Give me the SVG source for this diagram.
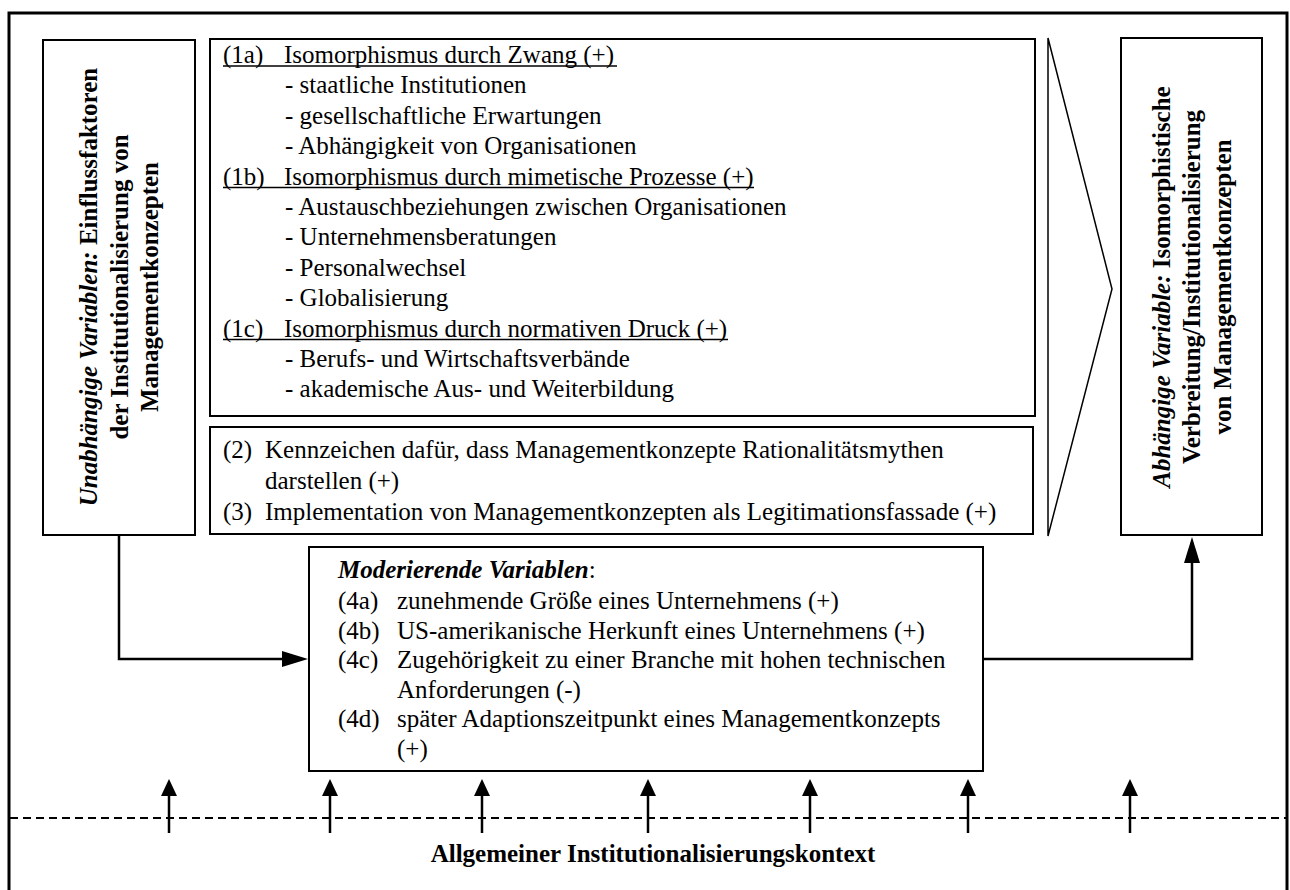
<svg xmlns="http://www.w3.org/2000/svg" width="1290" height="890" viewBox="0 0 1290 890">
<style>
.box{fill:#fff;stroke:#000;stroke-width:2}
.t{font-family:"Liberation Serif","Times New Roman",serif;font-size:25px;fill:#000}
.b{font-weight:bold}
.i{font-style:italic}
.conn{fill:none;stroke:#000;stroke-width:2.5}
.ul{stroke:#000;stroke-width:1.5}
</style>
<defs>
<marker id="ahBig" markerUnits="userSpaceOnUse" viewBox="0 0 26 16" markerWidth="26" markerHeight="16" refX="0" refY="8" orient="auto"><path d="M0,0 L26,8 L0,16 z" fill="#000"/></marker>
<marker id="ahSmall" markerUnits="userSpaceOnUse" viewBox="0 0 17 16" markerWidth="17" markerHeight="16" refX="0" refY="8" orient="auto"><path d="M0,0 L17,8 L0,16 z" fill="#000"/></marker>
</defs>
<rect x="0" y="0" width="1290" height="890" fill="#fff"/>
<g id="frame">
<rect x="9" y="13" width="1278" height="885" fill="none" stroke="#000" stroke-width="3"/>
</g>
<g id="context">
<line x1="10" y1="818" x2="1286" y2="818" stroke="#000" stroke-width="2" stroke-dasharray="8 5"/>
<text class="t b" x="653" y="862" text-anchor="middle">Allgemeiner Institutionalisierungskontext</text>
</g>
<g id="independent">
<rect class="box" x="43" y="40" width="152" height="495"/>
<text class="t b" transform="translate(97,287) rotate(-90)" text-anchor="middle"><tspan class="i">Unabhängige Variablen:</tspan> Einflussfaktoren</text>
<text class="t b" transform="translate(128,287) rotate(-90)" text-anchor="middle">der Institutionalisierung von</text>
<text class="t b" transform="translate(158,287) rotate(-90)" text-anchor="middle">Managementkonzepten</text>
</g>
<g id="isomorphism">
<rect class="box" x="210" y="39" width="825" height="377"/>
<text class="t" x="223" y="63">(1a)</text><text class="t" x="284" y="63">Isomorphismus durch Zwang (+)</text>
<line class="ul" x1="223" y1="66" x2="617" y2="66"/>
<text class="t" x="285" y="93.4">- staatliche Institutionen</text>
<text class="t" x="285" y="123.8">- gesellschaftliche Erwartungen</text>
<text class="t" x="285" y="154.2">- Abhängigkeit von Organisationen</text>
<text class="t" x="223" y="184.6">(1b)</text><text class="t" x="284" y="184.6">Isomorphismus durch mimetische Prozesse (+)</text>
<line class="ul" x1="223" y1="187.6" x2="754" y2="187.6"/>
<text class="t" x="285" y="215">- Austauschbeziehungen zwischen Organisationen</text>
<text class="t" x="285" y="245.4">- Unternehmensberatungen</text>
<text class="t" x="285" y="275.8">- Personalwechsel</text>
<text class="t" x="285" y="306.2">- Globalisierung</text>
<text class="t" x="223" y="336.6">(1c)</text><text class="t" x="284" y="336.6">Isomorphismus durch normativen Druck (+)</text>
<line class="ul" x1="223" y1="339.6" x2="728" y2="339.6"/>
<text class="t" x="285" y="367">- Berufs- und Wirtschaftsverbände</text>
<text class="t" x="285" y="397.4">- akademische Aus- und Weiterbildung</text>
</g>
<g id="myths">
<rect class="box" x="210" y="427" width="823" height="107"/>
<text class="t" x="223" y="458">(2)</text><text class="t" x="265" y="458">Kennzeichen dafür, dass Managementkonzepte Rationalitätsmythen</text>
<text class="t" x="265" y="489">darstellen (+)</text>
<text class="t" x="223" y="520">(3)</text><text class="t" x="265" y="520">Implementation von Managementkonzepten als Legitimationsfassade (+)</text>
</g>
<g id="transition">
<polygon points="1048,38 1112,289 1048,536" fill="none" stroke="#000" stroke-width="1.5"/>
</g>
<g id="dependent">
<rect class="box" x="1121" y="38" width="141" height="497"/>
<text class="t b" transform="translate(1170,287) rotate(-90)" text-anchor="middle"><tspan class="i">Abhängige Variable:</tspan> Isomorphistische</text>
<text class="t b" transform="translate(1200,287) rotate(-90)" text-anchor="middle">Verbreitung/Institutionalisierung</text>
<text class="t b" transform="translate(1231,287) rotate(-90)" text-anchor="middle">von Managementkonzepten</text>
</g>
<g id="moderating">
<rect class="box" x="309" y="547" width="674" height="224"/>
<text class="t" x="338" y="578"><tspan class="b i">Moderierende Variablen</tspan>:</text>
<text class="t" x="338" y="609">(4a)</text><text class="t" x="397" y="609">zunehmende Größe eines Unternehmens (+)</text>
<text class="t" x="338" y="638.5">(4b)</text><text class="t" x="397" y="638.5">US-amerikanische Herkunft eines Unternehmens (+)</text>
<text class="t" x="338" y="668">(4c)</text><text class="t" x="397" y="668">Zugehörigkeit zu einer Branche mit hohen technischen</text>
<text class="t" x="397" y="697.5">Anforderungen (-)</text>
<text class="t" x="338" y="727">(4d)</text><text class="t" x="397" y="727">später Adaptionszeitpunkt eines Managementkonzepts</text>
<text class="t" x="397" y="756.5">(+)</text>
</g>
<g id="connectors">
<path class="conn" d="M119,535 V659 H282" marker-end="url(#ahBig)"/>
<path class="conn" d="M983,659 H1192 V563" marker-end="url(#ahBig)"/>
<path class="conn" d="M169,833 V796" marker-end="url(#ahSmall)"/>
<path class="conn" d="M330,833 V796" marker-end="url(#ahSmall)"/>
<path class="conn" d="M482,833 V796" marker-end="url(#ahSmall)"/>
<path class="conn" d="M648,833 V796" marker-end="url(#ahSmall)"/>
<path class="conn" d="M810,833 V796" marker-end="url(#ahSmall)"/>
<path class="conn" d="M968,833 V796" marker-end="url(#ahSmall)"/>
<path class="conn" d="M1130,833 V796" marker-end="url(#ahSmall)"/>
</g>
</svg>
